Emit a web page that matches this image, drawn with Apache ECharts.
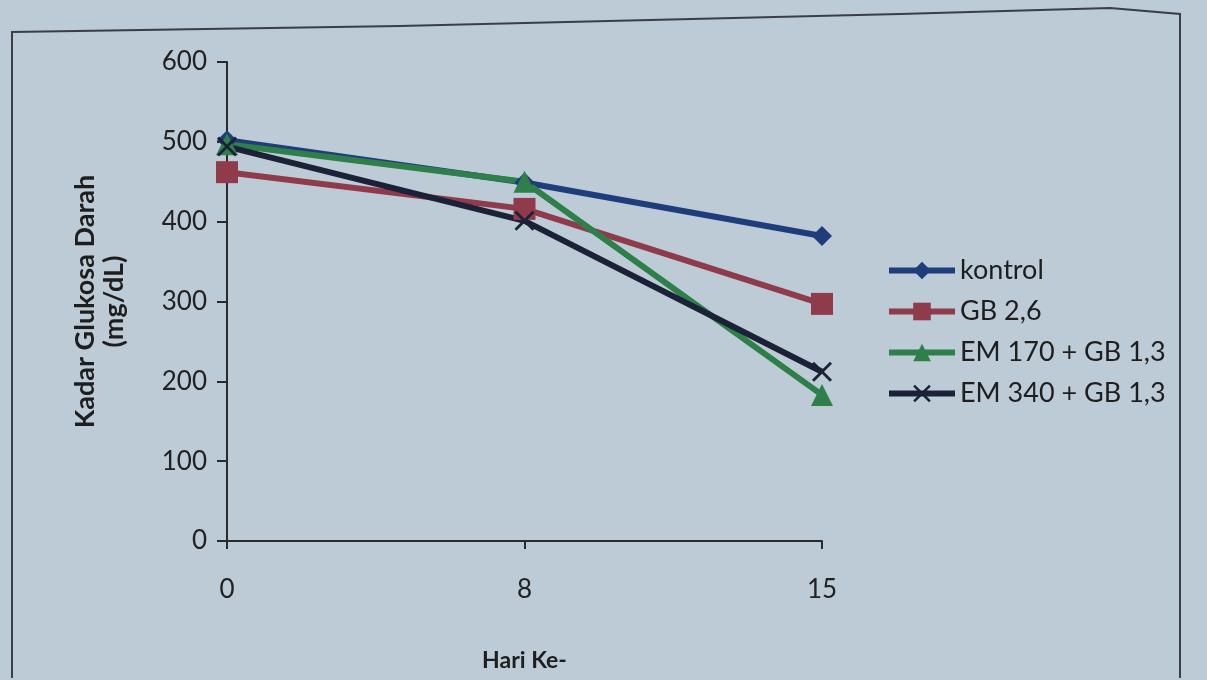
<!DOCTYPE html>
<html>
<head>
<meta charset="utf-8">
<script src="https://cdn.jsdelivr.net/npm/echarts@6/dist/echarts.min.js"></script>
<style>
html,body{margin:0;padding:0;background:#bccbd6;}
#c{width:1207px;height:680px;}
</style>
</head>
<body>
<div id="c"></div>
<script>
const days = ['0', '8', '15'];
const kontrol = [502, 449, 382];
const gb26 = [462, 416, 297];
const em170 = [497, 450, 183];
const em340 = [494, 401, 212];
const seriesNames = ['kontrol', 'GB 2,6', 'EM 170 + GB 1,3', 'EM 340 + GB 1,3'];
const yTicks = [0, 100, 200, 300, 400, 500, 600];

const FONT = 'Lato, "Open Sans", sans-serif';
const xPath = 'path://M0,1 L1,0 L5,4 L9,0 L10,1 L6,5 L10,9 L9,10 L5,6 L1,10 L0,9 L4,5 Z';

const chart = echarts.init(document.getElementById('c'));
function mk(name, data, color, symbol, size) {
  return {
    name: name, type: 'line', data: data,
    symbol: symbol, symbolSize: size,
    lineStyle: {color: color, width: 6},
    itemStyle: {color: color},
    emphasis: {disabled: true},
    animation: false
  };
}
chart.setOption({
  backgroundColor: '#bccbd6',
  animation: false,
  textStyle: {fontFamily: FONT},
  graphic: [{
    type: 'polyline',
    shape: {points: [[12, 678], [12, 32], [400, 26], [900, 14], [1110, 8], [1180, 14], [1180, 678]]},
    style: {stroke: '#3a3f45', lineWidth: 2, fill: null}
  }],
  grid: {left: 227, right: 385, top: 62, bottom: 139, containLabel: false},
  legend: {
    orient: 'vertical', left: 881, top: 252,
    itemWidth: 66, itemHeight: 22, itemGap: 14,
    lineStyle: {width: 6},
    textStyle: {fontSize: 27, color: '#1e1e1e', fontFamily: FONT},
    data: seriesNames
  },
  xAxis: {
    type: 'category', data: days, boundaryGap: false,
    name: 'Hari Ke-', nameLocation: 'middle', nameGap: 108,
    nameTextStyle: {fontSize: 23, fontWeight: 'bold', color: '#1e1e1e'},
    axisLine: {lineStyle: {color: '#2a2a2a', width: 2}},
    axisTick: {show: true, length: 8, lineStyle: {color: '#2a2a2a', width: 2}},
    axisLabel: {fontSize: 26, color: '#222', margin: 36}
  },
  yAxis: {
    type: 'value', min: 0, max: 600, interval: 100,
    name: 'Kadar Glukosa Darah\n(mg/dL)', nameLocation: 'middle', nameGap: 98,
    nameTextStyle: {fontSize: 27, fontWeight: 'bold', color: '#1e1e1e', lineHeight: 29},
    axisLine: {show: true, lineStyle: {color: '#2a2a2a', width: 2}},
    axisTick: {show: true, length: 10, lineStyle: {color: '#2a2a2a', width: 2}},
    splitLine: {show: false},
    axisLabel: {fontSize: 26, color: '#222', margin: 20,
      formatter: v => yTicks.includes(v) ? String(v) : ''}
  },
  series: [
    mk(seriesNames[0], kontrol, '#1f3d7a', 'diamond', 20),
    mk(seriesNames[1], gb26, '#8f3b4b', 'rect', 22),
    mk(seriesNames[2], em170, '#2f7f4a', 'triangle', 22),
    mk(seriesNames[3], em340, '#1b2238', xPath, 20)
  ]
});
</script>
</body>
</html>
